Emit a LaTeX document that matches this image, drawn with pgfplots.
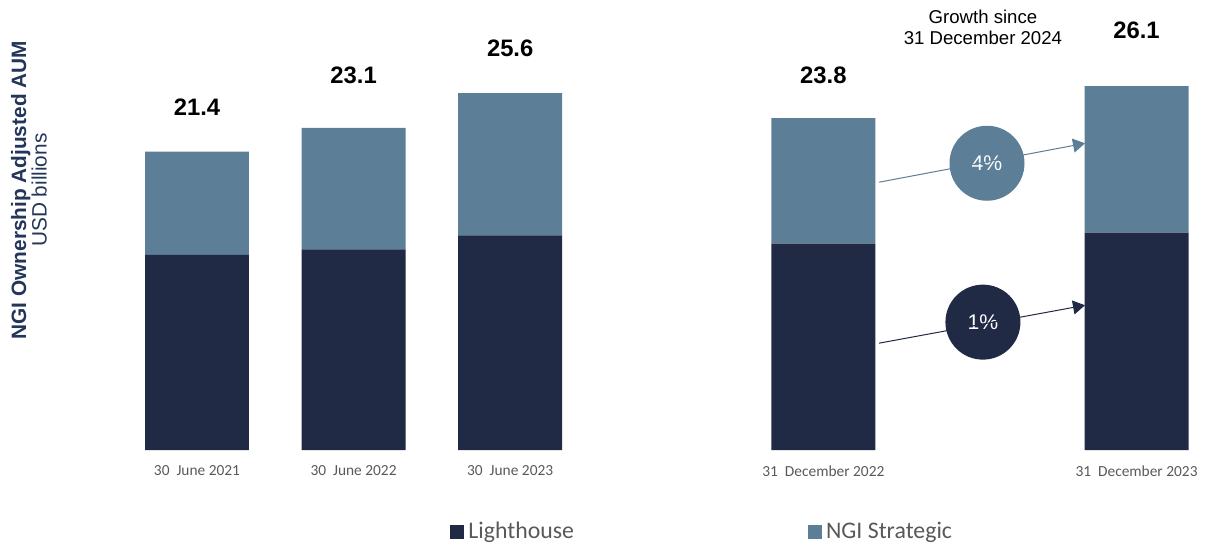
\documentclass[border=0pt]{standalone}
\usepackage{pgfplots}
\pgfplotsset{compat=1.18}
\usepackage{fontspec}
\setmainfont{Liberation Sans}
\newfontfamily\calibri{Carlito}
\usetikzlibrary{arrows.meta}
\definecolor{navy}{HTML}{212A45}
\definecolor{steel}{HTML}{5C7E97}
\definecolor{lblue}{HTML}{24355A}
\definecolor{tgray}{HTML}{595959}
\begin{document}
\begin{tikzpicture}
\begin{axis}[
  scale only axis, width=603.5pt, height=225pt,
  xmin=-1.258, xmax=6.450, ymin=0, ymax=32.26,
  ybar stacked, bar width=0.664,
  axis line style={draw=none}, major tick length=0pt,
  ytick=\empty, xtick={0,1,2,4,6},
  xticklabels={30\ \ June 2021,30\ \ June 2022,30\ \ June 2023,31\ \ December 2022,31\ \ December 2023},
  xticklabel style={font=\calibri\fontsize{7.7}{9}\selectfont, text=tgray, inner sep=0pt, yshift=-7.5pt},
  clip=false,
  legend columns=2,
  legend style={at={(axis cs:1.616,-5.88)}, anchor=west, draw=none, fill=none, inner sep=0pt,
    font=\calibri\fontsize{11.9}{13}\selectfont, text=tgray,
    nodes={inner sep=2pt},
    /tikz/every even column/.append style={column sep=115pt}},
  legend image code/.code={\fill[#1] (0pt,-3.5pt) rectangle (7pt,3.5pt);},
]
\addplot[fill=navy, draw=none] coordinates {(0,14.0) (1,14.4) (2,15.4) (4,14.8) (6,15.6)};
\addplot[fill=steel, draw=none] coordinates {(0,7.4) (1,8.7) (2,10.2) (4,9.0) (6,10.5)};
\legend{Lighthouse, NGI Strategic}
% data labels
\node[font=\bfseries\fontsize{11.9}{14}\selectfont] at (axis cs:0,24.6) {21.4};
\node[font=\bfseries\fontsize{11.9}{14}\selectfont] at (axis cs:1,26.9) {23.1};
\node[font=\bfseries\fontsize{11.9}{14}\selectfont] at (axis cs:2,28.8) {25.6};
\node[font=\bfseries\fontsize{11.9}{14}\selectfont] at (axis cs:4,26.9) {23.8};
\node[font=\bfseries\fontsize{11.9}{14}\selectfont] at (axis cs:6,30.1) {26.1};
% growth annotation
\node[align=center, font=\fontsize{9.3}{10.5}\selectfont] at (axis cs:5.019,30.32) {Growth since\\31 December 2024};
\draw[steel, line width=0.5pt, -{Triangle[length=6pt,width=7pt]}] (axis cs:4.355,19.21) -- (axis cs:5.671,22.0);
\node[circle, fill=steel, minimum size=37.5pt, inner sep=0pt, text=white, font=\fontsize{10.6}{12}\selectfont] at (axis cs:5.045,20.57) {4\%};
\draw[navy, line width=0.5pt, -{Triangle[length=6pt,width=7pt]}] (axis cs:4.355,7.67) -- (axis cs:5.671,10.39);
\node[circle, fill=navy, minimum size=37.5pt, inner sep=0pt, text=white, font=\fontsize{10.6}{12}\selectfont] at (axis cs:5.019,9.18) {1\%};
% y label
\node[rotate=90, align=center, text=lblue, font=\fontsize{10.4}{10.2}\selectfont] at (axis cs:-1.073,18.64) {\textbf{NGI Ownership Adjusted AUM}\\USD billions};
% bounding box
\path (axis cs:-1.258,-6.81) rectangle (axis cs:6.45,32.26);
\end{axis}
\end{tikzpicture}
\end{document}
